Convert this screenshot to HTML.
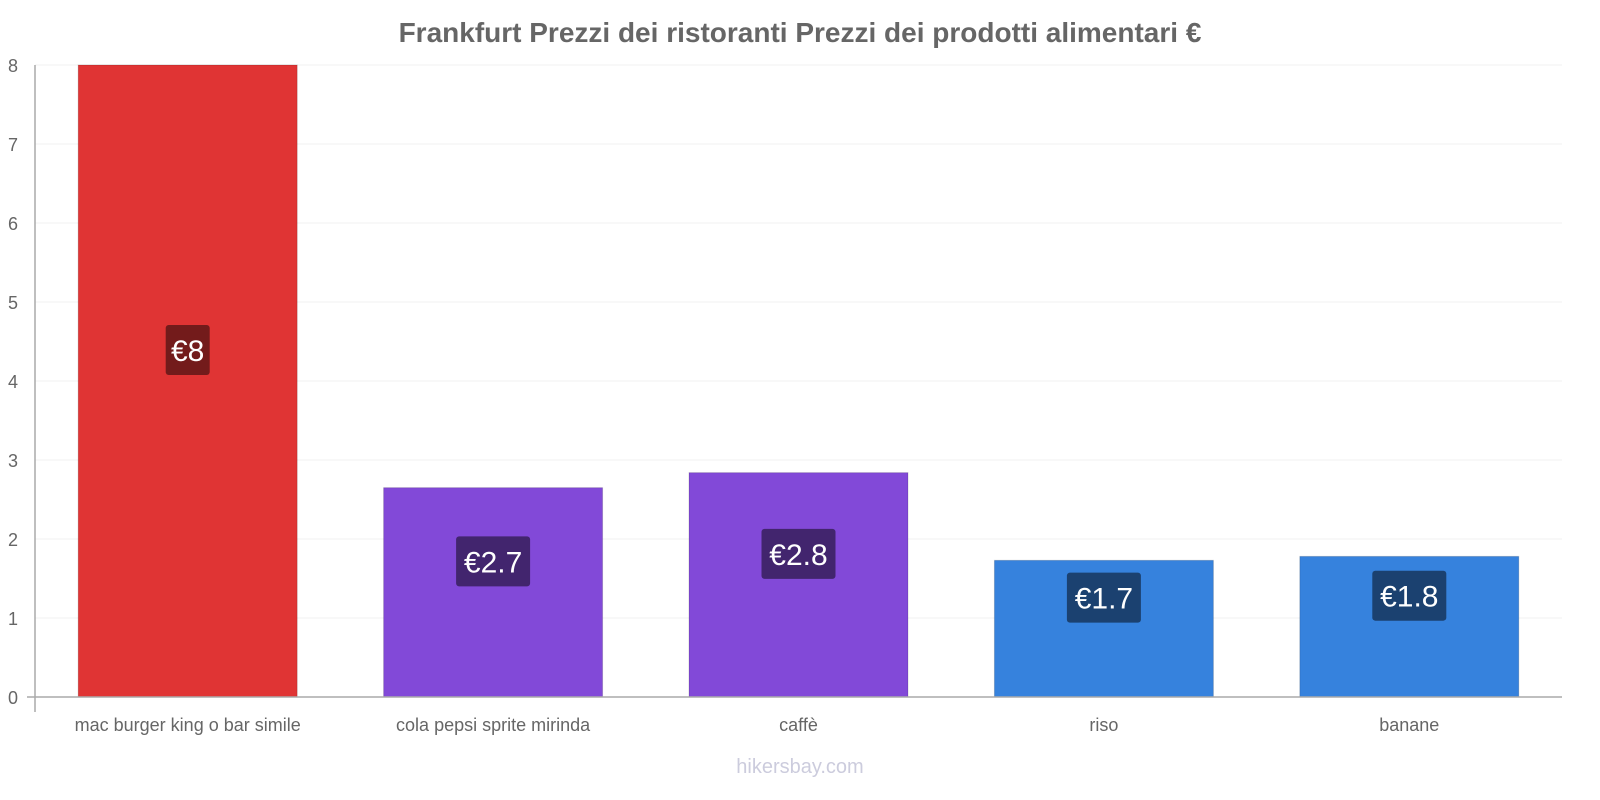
<!DOCTYPE html>
<html><head><meta charset="utf-8"><style>
html,body{margin:0;padding:0;background:#fff;font-family:"Liberation Sans",sans-serif;width:1600px;height:800px;overflow:hidden}
svg{display:block}
svg text{font-family:"Liberation Sans",sans-serif}
</style></head><body>
<svg id="c" width="1600" height="800">
<text x="800" y="42" text-anchor="middle" font-size="28" font-weight="bold" fill="#666">Frankfurt Prezzi dei ristoranti Prezzi dei prodotti alimentari €</text>
<text x="800" y="773" text-anchor="middle" font-size="20" fill="#ccd">hikersbay.com</text>
<g id="g"></g>
</svg>
<script>
const categories=["mac burger king o bar simile","cola pepsi sprite mirinda","caffè","riso","banane"];
const values=[8,2.65,2.84,1.73,1.78];
const labels=["€8","€2.7","€2.8","€1.7","€1.8"];
const ticks=[0,1,2,3,4,5,6,7,8];
const fills=["#e03434","#8249d8","#8249d8","#3682dd","#3682dd"];
const labelFills=["#731b1b","#42256e","#42256e","#1b4170","#1b4170"];
const NS="http://www.w3.org/2000/svg",g=document.getElementById('g');
const x0=35,x1=1562,y0=697,yTop=65,ymax=8;
const y=v=>y0-(y0-yTop)*v/ymax;
const band=(x1-x0)/categories.length;
function el(t,a){const e=document.createElementNS(NS,t);for(const k in a)e.setAttribute(k,a[k]);g.appendChild(e);return e;}
ticks.forEach(t=>{
 if(t>0){const l=el('line',{x1:x0,x2:x1,y1:y(t),y2:y(t),stroke:'#f0f0f0'});
 
 }
 const tx=el('text',{x:18,y:y(t)+7,'text-anchor':'end','font-size':18,fill:'#666'});tx.textContent=t;
 
 
});
categories.forEach((c,i)=>{
 const cx=x0+band*(i+0.5),w=219;
 const r=el('rect',{x:cx-w/2,y:y(values[i]),width:w,height:y0-y(values[i]),fill:fills[i],stroke:'rgba(0,0,0,0.15)'});
 
 
 const ly=(y(values[i])+y0)/2-31;
 const bw=labels[i].length*15+14;
 const b=el('rect',{x:cx-bw/2,y:ly-25,width:bw,height:50,rx:3,fill:labelFills[i]});
 
 
 const t=el('text',{x:cx,y:ly+11,'text-anchor':'middle','font-size':30,fill:'#fff'});t.textContent=labels[i];
 
 
 const xl=el('text',{x:cx,y:731,'text-anchor':'middle','font-size':18,fill:'#666'});xl.textContent=c;
 
 
});
const ya=el('line',{x1:x0,x2:x0,y1:yTop,y2:712,stroke:'#aaa','stroke-width':1.5});


const xa=el('line',{x1:x0-8,x2:x1,y1:y0,y2:y0,stroke:'#aaa','stroke-width':1.5});


</script>
</body></html>
